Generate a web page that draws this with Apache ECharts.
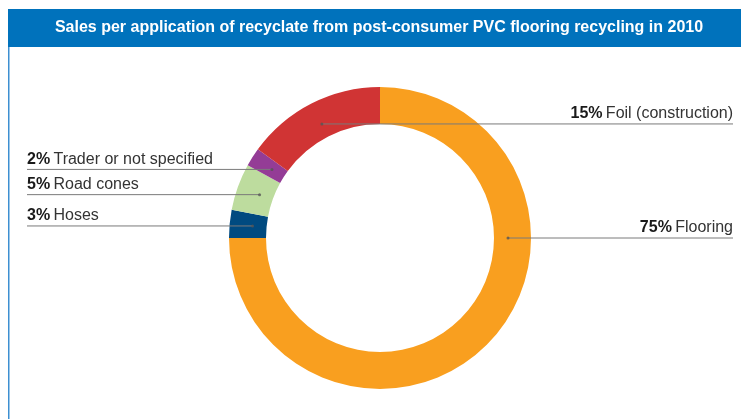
<!DOCTYPE html>
<html>
<head>
<meta charset="utf-8">
<script src="https://cdn.jsdelivr.net/npm/echarts@6/dist/echarts.min.js"></script>
<style>
  html, body { margin: 0; padding: 0; background: #fff; }
  #chart { width: 741px; height: 419px; }
</style>
</head>
<body>
<div id="chart"></div>
<script>
// data, clockwise from 12 o'clock
const categories = ['Flooring', 'Hoses', 'Road cones', 'Trader or not specified', 'Foil (construction)'];
const shares = [75, 3, 5, 2, 15];
const colors = ['#F99F1F', '#004A80', '#BDDC9E', '#943C96', '#D03434'];
const titleText = 'Sales per application of recyclate from post-consumer PVC flooring recycling in 2010';

const CX = 380, CY = 238;
const R_IN = 114, R_OUT = 151;
const ANCHOR_R = 128;
const LEFT_EDGE = 27, RIGHT_EDGE = 733;

const total = shares.reduce((a, b) => a + b, 0);
// anchor angle (percent of the circle) for each slice: middle of the slice,
// the big slice is pointed at 3 o'clock
const anchorPct = [];
let acc = 0;
shares.forEach((v, i) => {
  const mid = acc + v / 2;
  anchorPct.push(v / total > 0.5 ? total / 4 : mid);
  acc += v;
});

function anchorPoint(i) {
  const t = anchorPct[i] / total * Math.PI * 2;
  return [CX + ANCHOR_R * Math.sin(t), CY - ANCHOR_R * Math.cos(t)];
}

// first and last slice (around 12 o'clock) are labelled on the right
function onRight(i) {
  return i === 0 || i === categories.length - 1;
}

const pieBase = {
  type: 'pie',
  center: [CX, CY],
  radius: [R_IN, R_OUT],
  startAngle: 90,
  clockwise: true,
  silent: true
};

const chart = echarts.init(document.getElementById('chart'));

const option = {
  animation: false,
  graphic: [
    {
      type: 'rect',
      shape: { x: 8, y: 9, width: 733, height: 38 },
      style: { fill: '#0072BC' },
      silent: true
    },
    {
      type: 'line',
      shape: { x1: 8.75, y1: 47, x2: 8.75, y2: 419 },
      style: { stroke: '#3D8FD1', lineWidth: 1.5 },
      silent: true
    },
    {
      type: 'text',
      x: 379,
      y: 28,
      style: {
        text: titleText,
        fill: '#fff',
        font: 'bold 16px Arial, "Liberation Sans", sans-serif',
        textAlign: 'center',
        textVerticalAlign: 'middle'
      },
      silent: true
    }
  ],
  polar: { center: [CX, CY], radius: R_OUT },
  angleAxis: {
    type: 'value', min: 0, max: total, startAngle: 90, clockwise: true, show: false
  },
  radiusAxis: { type: 'value', min: 0, max: R_OUT, show: false },
  series: [
    // the ring itself
    Object.assign({}, pieBase, {
      z: 1,
      label: { show: false },
      labelLine: { show: false },
      data: categories.map((c, i) => ({
        name: c,
        value: shares[i],
        itemStyle: { color: colors[i] }
      }))
    }),
    // transparent copy on top, carries labels and leader lines
    Object.assign({}, pieBase, {
      z: 3,
      data: categories.map((c, i) => ({
        name: c,
        value: shares[i],
        itemStyle: { color: 'rgba(0,0,0,0)' }
      })),
      label: {
        show: true,
        position: 'outside',
        formatter: p => '{b|' + p.value + '%} {n|' + p.name + '}',
        rich: {
          b: { fontFamily: 'Arial', fontWeight: 'bold', fontSize: 16, color: '#1a1a1a', lineHeight: 18 },
          n: { fontFamily: 'Arial', fontSize: 16, color: '#333', lineHeight: 18 }
        }
      },
      labelLine: {
        show: true,
        length: 5,
        length2: 5,
        lineStyle: { color: '#7a7a7a', width: 1 }
      },
      labelLayout: function (params) {
        const i = params.dataIndex;
        const a = anchorPoint(i);
        const right = onRight(i);
        const endX = right ? RIGHT_EDGE : LEFT_EDGE;
        return {
          x: endX,
          y: a[1] - 1,
          align: right ? 'right' : 'left',
          verticalAlign: 'bottom',
          labelLinePoints: [a, a, [endX, a[1]]]
        };
      }
    }),
    {
      type: 'scatter',
      coordinateSystem: 'polar',
      silent: true,
      z: 5,
      symbolSize: 3,
      itemStyle: { color: '#555' },
      data: anchorPct.map(p => [ANCHOR_R, p])
    }
  ]
};

chart.setOption(option);
</script>
</body>
</html>
